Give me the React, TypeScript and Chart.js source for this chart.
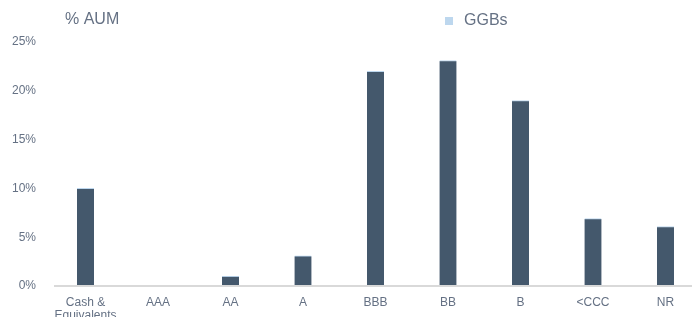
import React, { useEffect, useRef } from "react";
import { Chart, registerables } from "chart.js";

Chart.register(...registerables);

const categories: (string | string[])[] = [
  ["Cash &", "Equivalents"],
  "AAA",
  "AA",
  "A",
  "BBB",
  "BB",
  "B",
  "<CCC",
  "NR",
];
const ggbValues = [10.0, 0, 1.0, 3.1, 22.0, 23.1, 19.0, 6.9, 6.1];
const yTicks = [0, 5, 10, 15, 20, 25];
const seriesName = "GGBs";
const axisTitle = "% AUM";

const FONT = "'Liberation Sans', Arial, Helvetica, sans-serif";
const TEXT = "#657184";

export default function App() {
  const ref = useRef<HTMLCanvasElement | null>(null);

  useEffect(() => {
    if (!ref.current) return;
    const overlay = {
      id: "overlay",
      afterDraw(chart: any) {
        const ctx = chart.ctx;
        ctx.save();
        ctx.font = `16px ${FONT}`;
        ctx.fillStyle = TEXT;
        ctx.textBaseline = "middle";
        ctx.textAlign = "left";
        ctx.fillText(axisTitle, 65, 20);
        ctx.fillStyle = "#bdd7ee";
        ctx.fillRect(445, 17, 8, 8);
        ctx.fillStyle = TEXT;
        ctx.fillText(seriesName, 464, 21);
        ctx.restore();
      },
    };
    const chart = new Chart(ref.current, {
      type: "bar",
      data: {
        datasets: [
          {
            label: seriesName,
            data: ggbValues.map((v, i) => ({ x: i, y: v })),
            backgroundColor: "#44586c",
            borderColor: (c: any) =>
              ggbValues[c.dataIndex] > 0 ? "#bdd7ee" : "rgba(0,0,0,0)",
            borderWidth: (c: any) =>
              ggbValues[c.dataIndex] > 0 ? { top: 1, left: 0, right: 0, bottom: 0 } : 0,
            borderSkipped: false,
            barThickness: 17,
          },
        ],
      },
      options: {
        responsive: false,
        animation: false,
        layout: { padding: { top: 42, left: 0, right: 0, bottom: 0 } },
        plugins: {
          legend: { display: false },
          tooltip: { enabled: false },
        },
        scales: {
          x: {
            type: "linear",
            offset: false,
            min: -0.4207,
            max: 8.3655,
            grid: { display: false, drawTicks: false, offset: false },
            border: { display: true, color: "#d9d9d9", width: 2, z: 1 },
            afterBuildTicks: (scale: any) => {
              scale.ticks = categories.map((_, i) => ({ value: i }));
            },
            afterFit: (scale: any) => {
              scale.height = 31;
            },
            ticks: {
              autoSkip: false,
              maxRotation: 0,
              padding: 10,
              color: TEXT,
              font: { family: FONT, size: 12, lineHeight: 1.1 },
              callback: (v: any) => categories[Math.round(Number(v))] ?? "",
            },
          },
          y: {
            min: 0,
            max: 25,
            grid: { display: false, drawTicks: false },
            border: { display: false },
            afterBuildTicks: (scale: any) => {
              scale.ticks = yTicks.map((v) => ({ value: v }));
            },
            afterFit: (scale: any) => {
              scale.width = 55;
            },
            ticks: {
              padding: 19,
              color: TEXT,
              font: { family: FONT, size: 12 },
              callback: (v: any) => `${v}%`,
            },
          },
        },
      },
      plugins: [overlay],
    } as any);
    return () => chart.destroy();
  }, []);

  return (
    <div style={{ position: "fixed", left: 0, top: 0, width: 692, height: 317, background: "#fff" }}>
      <canvas ref={ref} width={692} height={317} style={{ display: "block" }} />
    </div>
  );
}
